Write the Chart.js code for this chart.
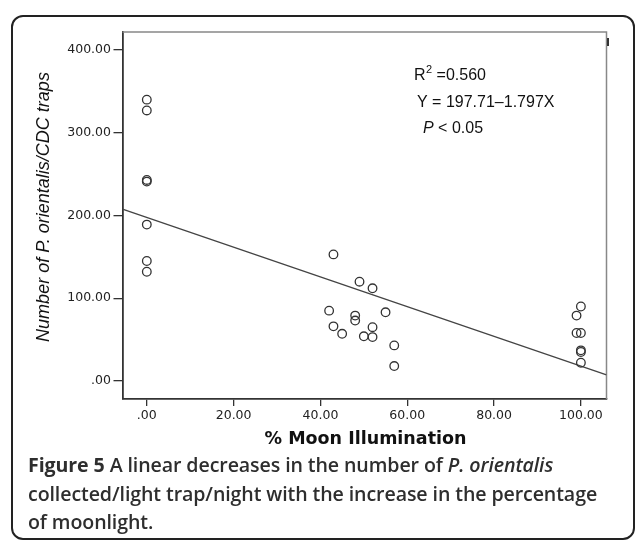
<!DOCTYPE html>
<html>
<head>
<meta charset="utf-8">
<script src="https://cdn.jsdelivr.net/npm/chart.js@4/dist/chart.umd.min.js"></script>
<style>
  html, body { margin: 0; padding: 0; background: #fff; }
  #wrap { position: relative; width: 636px; height: 540px; overflow: hidden; }
  #box { position: absolute; left: 11px; top: 15px; width: 620px; height: 521px;
         border: 2px solid #222; border-radius: 12px; }
  #chart { position: absolute; left: 0; top: 0; }
  #caption { position: absolute; left: 28px; top: 451px; width: 606px; white-space: nowrap;
             font-family: "Open Sans", sans-serif; font-size: 19.6px; line-height: 28.5px;
             font-weight: 600; color: #2e2e2e; letter-spacing: -0.1px; }
  #caption b { font-weight: 700; }
</style>
</head>
<body>
<div id="wrap">
  <div id="box"></div>
  <canvas id="chart" width="636" height="540"></canvas>
  <div id="caption"><b>Figure 5</b> A linear decreases in the number of <i>P. orientalis</i><br>collected/light trap/night with the increase in the percentage<br>of moonlight.</div>
</div>
<script>
// % moon illumination vs. P. orientalis per CDC trap
const moonPct = [0, 0, 0, 0, 0, 0, 0,
  42, 43, 43, 45, 48, 48, 49, 50, 52, 52, 52, 55, 57, 57,
  99, 100, 99, 100, 100, 100, 100];
const sandflies = [340, 327, 243, 241, 189, 145, 132,
  85, 153, 66, 57, 79, 73, 120, 54, 112, 65, 53, 83, 43, 18,
  79, 90, 58, 58, 37, 35, 22];

// fitted line  Y = 197.71 - 1.797X
const fitIntercept = 197.71;
const fitSlope = -1.797;

const xTicks = [0, 20, 40, 60, 80, 100];
const xTickLabels = [".00", "20.00", "40.00", "60.00", "80.00", "100.00"];
const yTicks = [0, 100, 200, 300, 400];
const yTickLabels = [".00", "100.00", "200.00", "300.00", "400.00"];

const xMin = -5.6, xMax = 105.9;
const yMin = -21.8, yMax = 421.8;

const points = moonPct.map((x, i) => ({ x: x, y: sandflies[i] }));
const fitLine = [xMin, xMax].map(x => ({ x: x, y: fitIntercept + fitSlope * x }));

// frame, axis titles and the fit statistics
const extras = {
  id: "extras",
  beforeDatasetsDraw(chart) {
    const { ctx, chartArea: a } = chart;
    ctx.save();
    ctx.strokeStyle = "#888";
    ctx.lineWidth = 1.5;
    ctx.beginPath();
    ctx.moveTo(a.left, a.top);
    ctx.lineTo(a.right, a.top);
    ctx.lineTo(a.right, a.bottom);
    ctx.stroke();
    ctx.strokeStyle = "#333";
    ctx.lineWidth = 2;
    ctx.beginPath();
    ctx.moveTo(a.right + 1.5, a.top + 6);
    ctx.lineTo(a.right + 1.5, a.top + 14);
    ctx.stroke();
    ctx.restore();
  },
  afterDraw(chart) {
    const { ctx, chartArea: a } = chart;
    ctx.save();
    ctx.fillStyle = "#111";
    ctx.textAlign = "center";
    ctx.textBaseline = "middle";
    ctx.font = "bold 17.5px 'DejaVu Sans'";
    ctx.fillText("% Moon Illumination", (a.left + a.right) / 2 + 1, 439);

    ctx.save();
    ctx.translate(44, 207);
    ctx.rotate(-Math.PI / 2);
    ctx.font = "italic 18px 'Liberation Sans'";
    ctx.fillText("Number of P. orientalis/CDC traps", 0, 0);
    ctx.restore();

    ctx.textAlign = "left";
    ctx.textBaseline = "alphabetic";
    ctx.font = "16px 'Liberation Sans'";
    let x = 414;
    ctx.fillText("R", x, 80);
    x += ctx.measureText("R").width;
    ctx.font = "11px 'Liberation Sans'";
    ctx.fillText("2", x + 0.5, 73);
    x += ctx.measureText("2").width + 0.5;
    ctx.font = "16px 'Liberation Sans'";
    ctx.fillText(" =0.560", x, 80);

    ctx.fillText("Y = 197.71\u20131.797X", 417, 107);

    ctx.font = "italic 16px 'Liberation Sans'";
    ctx.fillText("P", 423, 133);
    const pw = ctx.measureText("P").width;
    ctx.font = "16px 'Liberation Sans'";
    ctx.fillText(" < 0.05", 423 + pw, 133);
    ctx.restore();
  }
};

new Chart(document.getElementById("chart"), {
  type: "scatter",
  data: {
    datasets: [{
      data: points,
      pointStyle: "circle",
      pointRadius: 4.3,
      pointBorderWidth: 1.3,
      borderColor: "#333",
      backgroundColor: "rgba(0,0,0,0)"
    }, {
      type: "line",
      data: fitLine,
      borderColor: "#444",
      borderWidth: 1.3,
      pointRadius: 0,
      fill: false
    }]
  },
  options: {
    responsive: false,
    animation: false,
    layout: { padding: { left: 0, right: 29.5, top: 32, bottom: 0 } },
    plugins: { legend: { display: false }, tooltip: { enabled: false } },
    scales: {
      x: {
        type: "linear",
        min: xMin,
        max: xMax,
        afterBuildTicks: s => { s.ticks = xTicks.map(v => ({ value: v })); },
        afterFit: s => { s.height = 141; },
        ticks: {
          color: "#222",
          padding: 2,
          maxRotation: 0,
          font: { family: "DejaVu Sans", size: 12.5 },
          callback: (v, i) => xTickLabels[i]
        },
        grid: { drawOnChartArea: false, tickLength: 7, color: "#333", lineWidth: 1.3 },
        border: { color: "#333", width: 1.8 }
      },
      y: {
        min: yMin,
        max: yMax,
        afterBuildTicks: s => { s.ticks = yTicks.map(v => ({ value: v })); },
        afterFit: s => { s.width = 122.5; },
        ticks: {
          color: "#222",
          padding: 2.5,
          font: { family: "DejaVu Sans", size: 12.5 },
          callback: (v, i) => yTickLabels[i]
        },
        grid: { drawOnChartArea: false, tickLength: 9, color: "#333", lineWidth: 1.3 },
        border: { color: "#333", width: 1.8 }
      }
    }
  },
  plugins: [extras]
});
</script>
</body>
</html>
